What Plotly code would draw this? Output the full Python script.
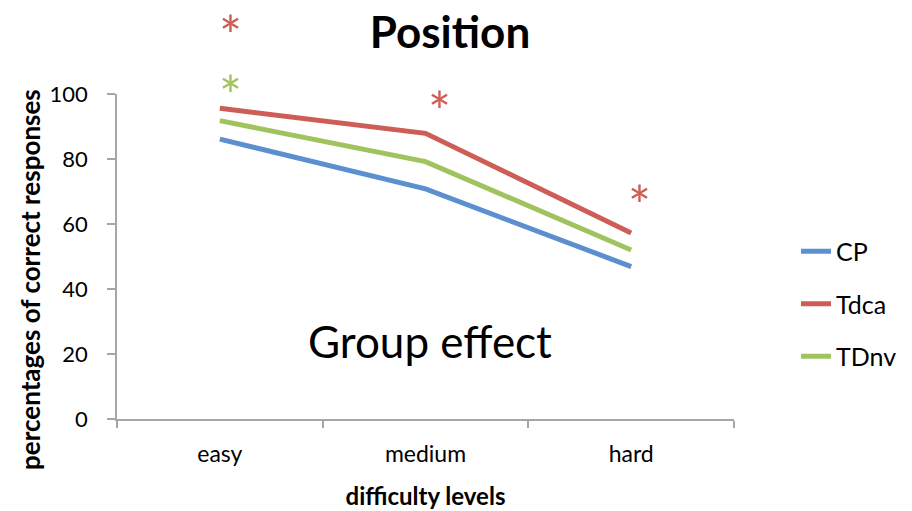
import plotly.graph_objects as go

# difficulty levels on the x axis
levels = ["easy", "medium", "hard"]

# percentages of correct responses per group
cp = [86.1, 70.8, 46.9]
tdca = [95.6, 87.9, 57.2]
tdnv = [91.8, 79.2, 52.0]

# significance markers: (category position, height on the 0-100 scale, colour key)
stars_x = [0.05, 0.05, 1.07, 2.04]
stars_y = [118.3, 99.9, 95.0, 66.0]
stars_group = ["Tdca", "TDnv", "Tdca", "Tdca"]

colors = {"CP": "#5B8FCF", "Tdca": "#CD5D56", "TDnv": "#A0C360"}
FONT = "Lato"

L, R, T, B = 117, 178, 94, 92
W, H = 912, 511
PW, PH = W - L - R, H - T - B

fig = go.Figure()
for name, vals in [("CP", cp), ("Tdca", tdca), ("TDnv", tdnv)]:
    fig.add_trace(go.Scatter(
        x=levels, y=vals, name=name, mode="lines", legendgroup=name,
        line=dict(color=colors[name], width=5),
    ))

annotations = []
for sx, sy, g in zip(stars_x, stars_y, stars_group):
    # y axis spans 0..100, so the value / 100 is the paper height
    annotations.append(dict(
        x=sx, y=sy / 100, xref="x", yref="paper", text="*", showarrow=False,
        font=dict(family=FONT, size=54, color=colors[g]),
        xanchor="center", yanchor="middle",
    ))
annotations.append(dict(
    x=(430 - L) / PW, y=(H - B - 341) / PH, xref="paper", yref="paper",
    text="Group effect", showarrow=False,
    font=dict(family=FONT, size=44, color="black"),
    xanchor="center", yanchor="middle",
))
# vertical axis label, set a little below the middle of the axis
annotations.append(dict(
    x=(30 - L) / PW, y=(H - B - 280) / PH, xref="paper", yref="paper",
    text="<b>percentages of correct responses</b>", textangle=-90,
    showarrow=False, font=dict(family=FONT, size=26, color="black"),
    xanchor="center", yanchor="middle",
))

fig.update_layout(
    width=W, height=H,
    margin=dict(l=L, r=R, t=T, b=B, autoexpand=False),
    paper_bgcolor="white", plot_bgcolor="white",
    font=dict(family=FONT, color="black"),
    title=dict(text="<b>Position</b>", x=450 / W, xanchor="center",
               y=1 - 33 / H, yanchor="middle", automargin=False,
               font=dict(family=FONT, size=44, color="black")),
    showlegend=True,
    legend=dict(x=(796 - L) / PW, xanchor="left",
                y=(H - B - 304) / PH, yanchor="middle",
                xref="paper", yref="paper",
                font=dict(family=FONT, size=25, color="black"),
                tracegroupgap=17, bgcolor="rgba(0,0,0,0)"),
    xaxis=dict(
        type="category", range=[-0.5, 2.5], tickson="boundaries",
        automargin=False,
        showline=True, linecolor="#A6A6A6", linewidth=1.5,
        ticks="outside", ticklen=7, tickcolor="#A6A6A6", tickwidth=1.5,
        showgrid=False, zeroline=False, ticklabelstandoff=14,
        tickfont=dict(family=FONT, size=23, color="black"),
        title=dict(text="<b>difficulty levels</b>", standoff=22,
                   font=dict(family=FONT, size=24, color="black")),
    ),
    yaxis=dict(
        range=[0, 100], tickvals=[0, 20, 40, 60, 80, 100],
        automargin=False,
        showline=True, linecolor="#A6A6A6", linewidth=1.5,
        ticks="outside", ticklen=8, tickcolor="#A6A6A6", tickwidth=1.5,
        showgrid=False, zeroline=False, ticklabelstandoff=15,
        tickfont=dict(family=FONT, size=22, color="black"),
    ),
    annotations=annotations,
)

fig.write_html("out.html")
